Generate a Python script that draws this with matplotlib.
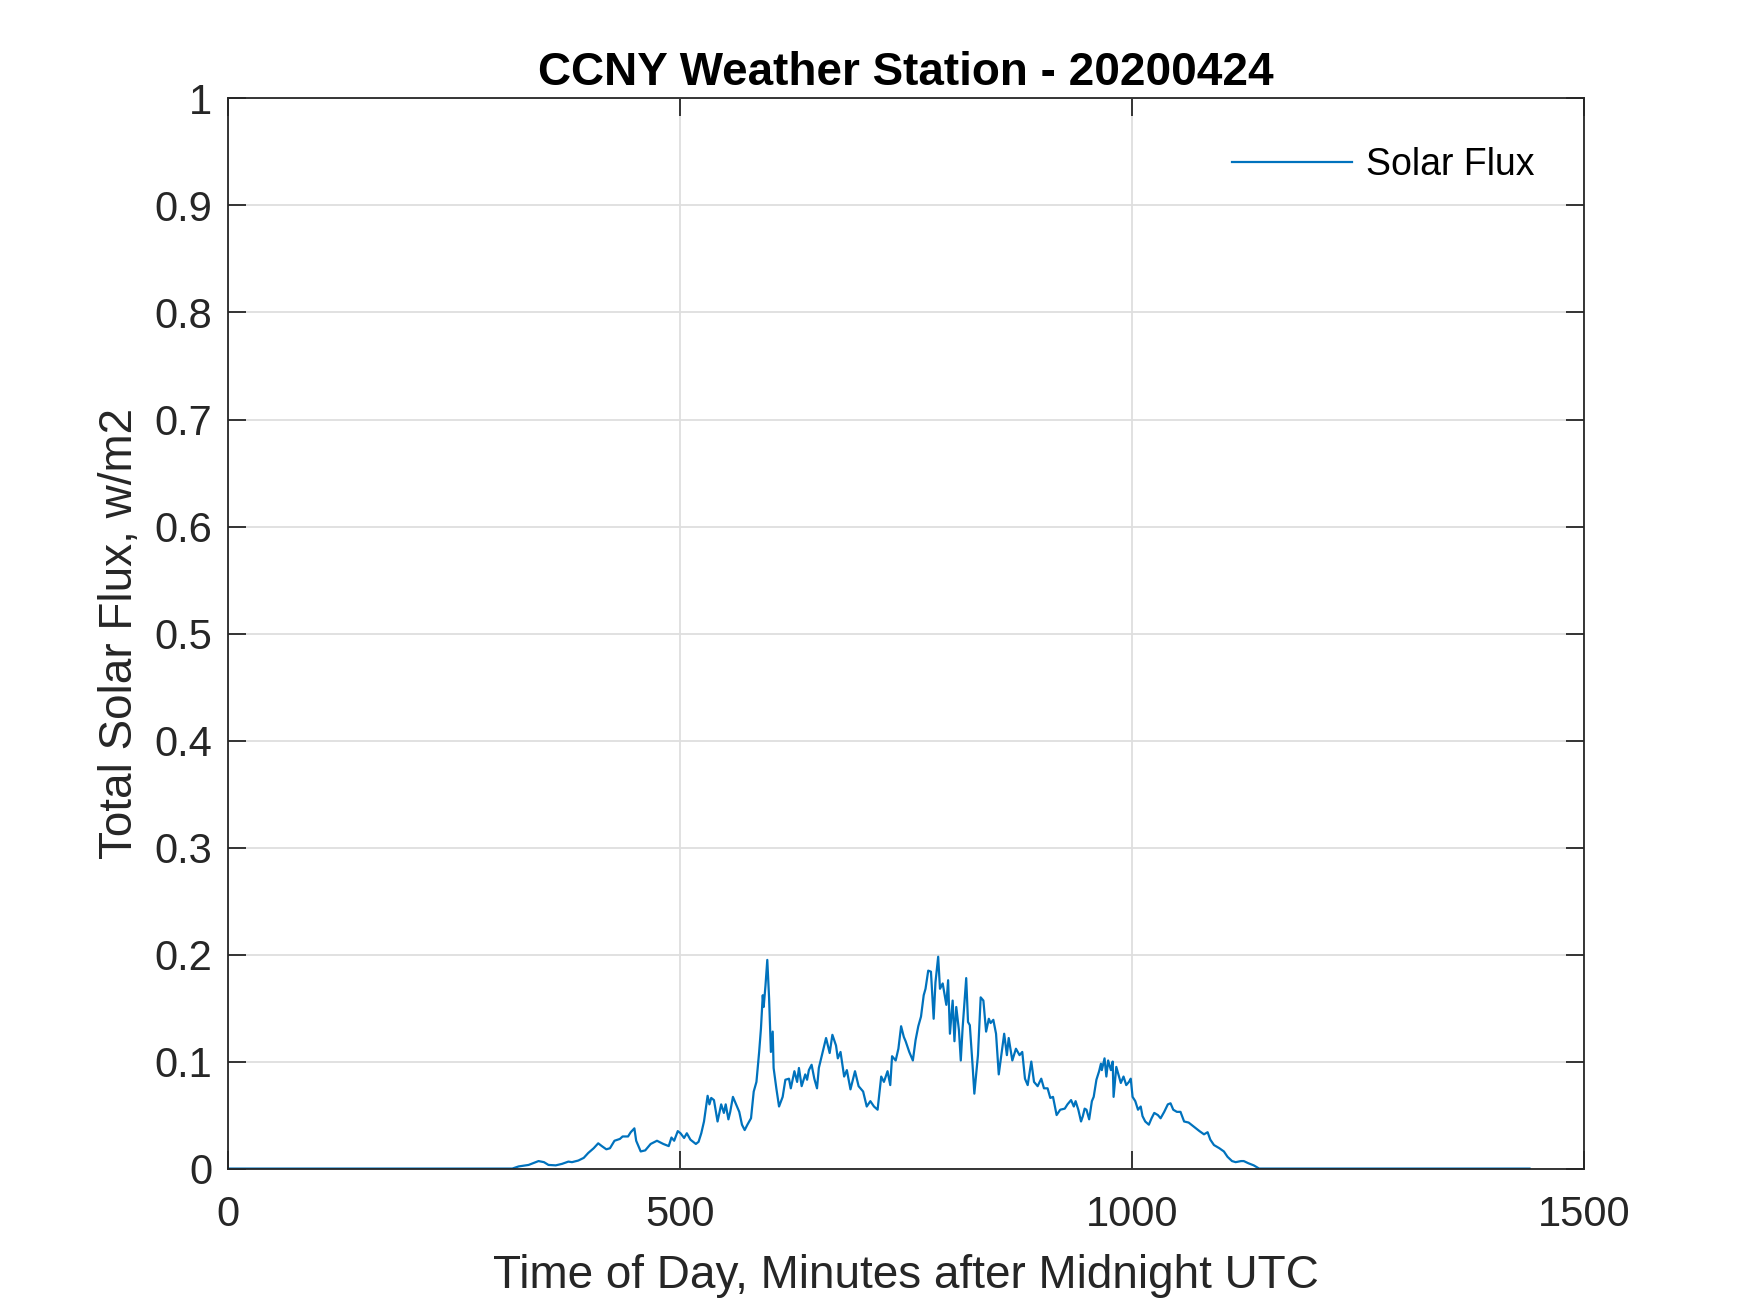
import numpy as np
import matplotlib
matplotlib.use("Agg")
import matplotlib.pyplot as plt

# minutes after midnight UTC
minutes = [0, 315, 322, 333, 344, 350, 355, 363, 370, 377, 381, 388, 394, 399,
           405, 410, 414, 419, 423, 428, 434, 437, 443, 446, 450, 452, 457, 462,
           468, 475, 482, 488, 491, 494, 498, 501, 505, 508, 512, 518, 521, 524,
           527, 531, 533, 535, 538, 542, 546, 549, 551, 554, 556, 559, 562, 566,
           569, 572, 575, 579, 582, 585, 588, 590, 592, 593, 595, 597, 599, 601,
           603, 604, 607, 610, 614, 617, 621, 623, 627, 630, 632, 635, 639, 641,
           643, 646, 649, 652, 654, 658, 662, 666, 669, 673, 675, 678, 682, 685,
           689, 694, 698, 703, 707, 711, 715, 719, 723, 726, 730, 733, 735, 739,
           742, 745, 748, 750, 754, 758, 761, 764, 767, 770, 772, 775, 778, 781,
           783, 786, 788, 791, 795, 797, 799, 802, 804, 806, 809, 811, 813, 817,
           819, 821, 824, 826, 830, 833, 836, 839, 842, 844, 847, 850, 853, 859,
           862, 864, 868, 872, 876, 879, 882, 885, 889, 892, 896, 900, 903, 907,
           910, 913, 917, 921, 926, 929, 933, 936, 938, 941, 944, 946, 948, 950,
           953, 956, 958, 961, 964, 966, 967, 970, 972, 974, 977, 979, 980, 983,
           986, 988, 991, 994, 997, 999, 1001, 1004, 1007, 1010, 1012, 1015, 1019,
           1022, 1025, 1029, 1032, 1036, 1040, 1043, 1046, 1050, 1054, 1058, 1063,
           1069, 1075, 1080, 1084, 1087, 1091, 1097, 1102, 1106, 1111, 1115, 1121,
           1124, 1129, 1135, 1141, 1440]

solar_flux = [0, 0, 0.002, 0.0034, 0.007, 0.006, 0.0034, 0.003, 0.0044, 0.0065,
              0.006, 0.0075, 0.010, 0.0146, 0.019, 0.0236, 0.021, 0.018, 0.019,
              0.026, 0.0277, 0.030, 0.030, 0.034, 0.0376, 0.026, 0.016, 0.017,
              0.023, 0.026, 0.023, 0.021, 0.029, 0.026, 0.035, 0.033, 0.0286,
              0.033, 0.027, 0.023, 0.025, 0.033, 0.044, 0.068, 0.060, 0.066,
              0.064, 0.044, 0.060, 0.052, 0.060, 0.046, 0.053, 0.067, 0.061,
              0.053, 0.041, 0.036, 0.041, 0.047, 0.072, 0.081, 0.109, 0.131,
              0.162, 0.151, 0.171, 0.195, 0.159, 0.109, 0.128, 0.094, 0.075,
              0.058, 0.067, 0.083, 0.084, 0.075, 0.091, 0.081, 0.094, 0.077,
              0.088, 0.083, 0.092, 0.097, 0.084, 0.075, 0.094, 0.108, 0.122,
              0.108, 0.125, 0.115, 0.103, 0.109, 0.086, 0.092, 0.074, 0.091,
              0.077, 0.072, 0.058, 0.063, 0.058, 0.055, 0.086, 0.081, 0.091,
              0.078, 0.105, 0.101, 0.112, 0.133, 0.123, 0.119, 0.109, 0.101,
              0.120, 0.133, 0.142, 0.162, 0.168, 0.185, 0.184, 0.140, 0.174,
              0.198, 0.168, 0.173, 0.153, 0.176, 0.126, 0.157, 0.119, 0.151,
              0.129, 0.101, 0.131, 0.178, 0.137, 0.134, 0.097, 0.070, 0.106,
              0.160, 0.157, 0.128, 0.140, 0.136, 0.139, 0.126, 0.088, 0.126,
              0.106, 0.122, 0.101, 0.112, 0.106, 0.109, 0.084, 0.078, 0.100,
              0.081, 0.077, 0.084, 0.075, 0.075, 0.066, 0.067, 0.050, 0.055,
              0.056, 0.060, 0.064, 0.058, 0.063, 0.055, 0.044, 0.049, 0.056,
              0.055, 0.046, 0.063, 0.067, 0.083, 0.091, 0.098, 0.092, 0.103,
              0.086, 0.101, 0.092, 0.100, 0.067, 0.095, 0.086, 0.080, 0.086,
              0.078, 0.081, 0.084, 0.067, 0.063, 0.055, 0.058, 0.049, 0.044,
              0.041, 0.047, 0.052, 0.050, 0.047, 0.053, 0.060, 0.061, 0.055,
              0.053, 0.053, 0.044, 0.043, 0.039, 0.035, 0.032, 0.034, 0.027,
              0.022, 0.019, 0.016, 0.011, 0.007, 0.006, 0.007, 0.007, 0.005,
              0.003, 0, 0]

x_ticks = [0, 500, 1000, 1500]
y_ticks = [0, 0.1, 0.2, 0.3, 0.4, 0.5, 0.6, 0.7, 0.8, 0.9, 1]
y_ticklabels = ['0', '0.1', '0.2', '0.3', '0.4', '0.5', '0.6', '0.7', '0.8', '0.9', '1']

plt.rcParams['font.family'] = ['Liberation Sans', 'DejaVu Sans']
axcol = '#262626'

fig = plt.figure(figsize=(17.5, 13.13), dpi=100)
ax = fig.add_axes([0.13, 0.11, 0.775, 0.815])

ax.plot(minutes, solar_flux, color='#0072BD', lw=1.6, label='Solar Flux')

ax.set_xlim(0, 1500)
ax.set_ylim(0, 1)
ax.set_xticks(x_ticks)
ax.set_yticks(y_ticks)
ax.set_yticklabels(y_ticklabels)
ax.grid(True, color='#dedede', lw=1.3)
ax.set_axisbelow(True)
ax.tick_params(direction='in', length=13, width=1.3, colors=axcol,
               labelsize=30, top=True, right=True)
ax.tick_params(axis='x', pad=19)
ax.tick_params(axis='y', pad=11)
for s in ax.spines.values():
    s.set_color(axcol)
    s.set_linewidth(1.3)

ax.set_xlabel('Time of Day, Minutes after Midnight UTC', fontsize=33, color=axcol, labelpad=14)
ax.set_ylabel('Total Solar Flux, w/m2', fontsize=33, color=axcol, labelpad=9)
ax.set_title('CCNY Weather Station - 20200424', fontsize=33, fontweight='bold', pad=10)

leg = ax.legend(loc='upper right', frameon=False, fontsize=27, handlelength=3.2,
                handletextpad=0.4, borderaxespad=0.9)

plt.savefig('out.png', dpi=100)
